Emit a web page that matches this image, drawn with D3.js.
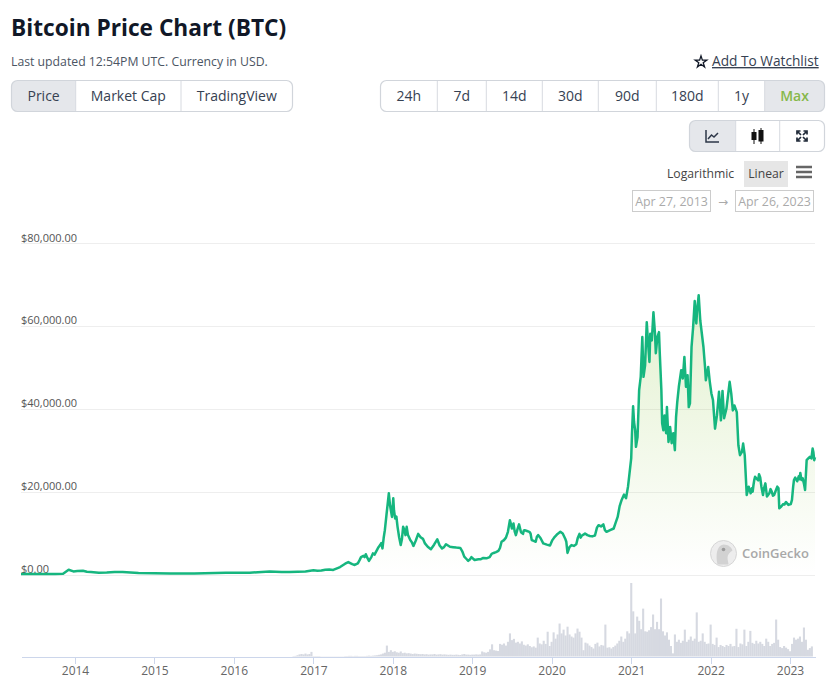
<!DOCTYPE html>
<html>
<head>
<meta charset="utf-8">
<script src="https://cdn.jsdelivr.net/npm/d3@7"></script>
<style>
html, body {
	margin: 0;
	padding: 0;
	background: #fff;
}

svg {
	display: block;
	font-family: "Open Sans", sans-serif;
}

.grid line {
	stroke: #eeeeee;
	shape-rendering: crispEdges;
}

.grid text {
	fill: #555;
	font-family: "Open Sans", sans-serif;
	font-size: 11px;
}

.xaxis line, .xaxis path {
	stroke: #ccd6eb;
	shape-rendering: crispEdges;
}

.xaxis text {
	fill: #666;
	font-family: "Open Sans", sans-serif;
	font-size: 12px;
}

.cell-text {
	font-size: 14px;
	font-weight: 500;
	fill: #364152;
	text-anchor: middle;
}
</style>
</head>
<body>
<script>
// price. year as decimal, value in thousands of USD
var priceYears = [2013.32, 2013.6, 2013.75, 2013.85, 2013.92, 2013.98, 2014.1, 2014.2, 2014.4, 2014.5, 2014.8, 2015.0, 2015.5, 2015.9, 2016.0, 2016.45, 2016.6, 2016.9, 2017.0, 2017.1, 2017.2, 2017.25,
	2017.336, 2017.44, 2017.52, 2017.63, 2017.66, 2017.70, 2017.80, 2017.84, 2017.87, 2017.90, 2017.92, 2017.95, 2017.965, 2017.99, 2018.006, 2018.03, 2018.06, 2018.10, 2018.13, 2018.16, 2018.175, 2018.22, 2018.26, 2018.32, 2018.405, 2018.48, 2018.56, 2018.62, 2018.67, 2018.72, 2018.85, 2018.90, 2018.95, 2018.99,
	2019.08, 2019.14, 2019.22, 2019.27, 2019.33, 2019.37, 2019.425, 2019.475, 2019.50, 2019.52, 2019.55, 2019.59, 2019.64, 2019.66, 2019.72, 2019.75, 2019.80, 2019.83, 2019.895, 2019.98,
	2020.04, 2020.11, 2020.17, 2020.20, 2020.25, 2020.31, 2020.35, 2020.38, 2020.42, 2020.48, 2020.545, 2020.59, 2020.65, 2020.69, 2020.78, 2020.83, 2020.88, 2020.91, 2020.935, 2020.96,
	2021.0, 2021.01, 2021.024, 2021.036, 2021.05, 2021.06, 2021.08, 2021.10, 2021.12, 2021.14, 2021.155, 2021.175, 2021.196, 2021.21, 2021.23, 2021.24, 2021.26, 2021.28, 2021.30, 2021.31, 2021.33, 2021.35, 2021.36, 2021.38, 2021.39, 2021.405, 2021.42, 2021.44, 2021.45, 2021.47, 2021.49, 2021.51, 2021.53, 2021.55, 2021.565, 2021.58, 2021.60, 2021.63, 2021.65, 2021.67, 2021.69, 2021.71, 2021.725, 2021.74, 2021.76, 2021.78, 2021.80, 2021.82, 2021.83, 2021.85, 2021.87, 2021.89, 2021.91, 2021.93, 2021.94, 2021.97, 2021.99,
	2022.01, 2022.03, 2022.056, 2022.08, 2022.106, 2022.13, 2022.15, 2022.17, 2022.20, 2022.24, 2022.26, 2022.28, 2022.30, 2022.33, 2022.35, 2022.37, 2022.395, 2022.41, 2022.43, 2022.455, 2022.48, 2022.505, 2022.54, 2022.56, 2022.61, 2022.64, 2022.66, 2022.69, 2022.71, 2022.77, 2022.80, 2022.84, 2022.865, 2022.915, 2022.95,
	2023.01, 2023.04, 2023.066, 2023.11, 2023.13, 2023.16, 2023.19, 2023.21, 2023.25, 2023.285, 2023.305, 2023.315];
var priceValues = [0.14, 0.11, 0.13, 0.2, 1.15, 0.75, 0.9, 0.6, 0.5, 0.63, 0.35, 0.3, 0.26, 0.4, 0.43, 0.75, 0.6, 0.75, 1.0, 0.95, 1.2, 1.1,
	1.8, 3.0, 2.3, 4.5, 4.9, 3.3, 5.9, 7.1, 6.3, 10.7, 14.3, 19.6, 16.7, 13.9, 18.4, 13.5, 11.5, 7.1, 11.5, 9.5, 11.5, 8.3, 6.9, 9.8, 7.5, 6.1, 8.5, 6.3, 7.3, 6.7, 6.4, 4.3, 3.3, 4.2,
	3.7, 4.0, 4.2, 5.2, 5.7, 7.9, 8.9, 13.1, 11.1, 12.3, 9.5, 12.1, 9.8, 10.7, 10.3, 8.3, 7.9, 9.5, 7.5, 7.0,
	9.1, 10.3, 8.7, 5.2, 7.1, 7.3, 9.8, 9.4, 9.9, 9.3, 9.4, 11.9, 12.1, 10.3, 11.1, 13.9, 18, 19.3, 18.4, 21.2,
	28, 34.1, 40.6, 36.8, 34.8, 30.8, 33.2, 44.5, 47.7, 57.3, 47.7, 50.5, 60.9, 56.5, 51.3, 58.1, 56.5, 63.3, 58.1, 53.4, 57.3, 58.5, 53.4, 44.5, 36.5, 34.8, 38.4, 34.1, 40.4, 32, 35.6, 31.7, 34.1, 30, 38, 41.6, 45.3, 49.3, 47.3, 52.5, 45.3, 48.1, 40.4, 41.3, 54.9, 59.7, 66, 60.6, 63.7, 67.4, 61.3, 58.1, 54.9, 50.1, 46.9, 50.1, 46.5,
	43.7, 42.1, 35.2, 38.4, 44.1, 37.2, 44.3, 37.7, 40.1, 46.5, 43.7, 39.6, 40.8, 39.2, 31.2, 28.8, 29.6, 31.6, 28.8, 19.2, 21.2, 19.6, 21.6, 23.6, 24.2, 21.2, 19.2, 22, 18.8, 20, 19.2, 21.2, 16, 17, 17.5,
	17, 21.2, 23.4, 23.7, 24.5, 23.2, 20.4, 27.6, 28.4, 30.4, 27.6, 28.3];

// smaller wiggles between the points above
var detailYears = [2014.03, 2014.15, 2014.3, 2014.6, 2015.2, 2016.2, 2016.7, 2017.05, 2017.15,
	2017.40, 2017.47, 2017.49, 2017.56, 2017.58, 2017.60, 2017.645, 2017.68, 2017.73, 2017.75, 2017.77, 2017.82, 2017.855, 2017.885,
	2018.015, 2018.045, 2018.08, 2018.115, 2018.145, 2018.19, 2018.24, 2018.29, 2018.35, 2018.38, 2018.44, 2018.52, 2018.59, 2018.645, 2018.695, 2018.76, 2018.80, 2018.875, 2018.925, 2018.97,
	2019.03, 2019.11, 2019.18, 2019.245, 2019.30, 2019.35, 2019.40, 2019.45, 2019.485, 2019.535, 2019.57, 2019.615, 2019.65, 2019.69, 2019.735, 2019.775, 2019.815, 2019.86, 2019.94,
	2020.01, 2020.075, 2020.14, 2020.185, 2020.225, 2020.28, 2020.33, 2020.365, 2020.40, 2020.45, 2020.51, 2020.57, 2020.62, 2020.67, 2020.735, 2020.805, 2020.855,
	2022.47, 2022.52, 2022.53, 2022.55, 2022.585, 2022.60, 2022.625, 2022.675, 2022.70, 2022.74, 2022.755, 2022.785, 2022.82, 2022.855, 2022.89, 2022.93, 2022.98,
	2023.025, 2023.05, 2023.09, 2023.12, 2023.145, 2023.175, 2023.2, 2023.23, 2023.27, 2023.295];
var detailValues = [0.85, 0.65, 0.45, 0.58, 0.23, 0.42, 0.62, 0.9, 1.15,
	2.6, 2.7, 2.5, 2.7, 3.4, 4.2, 4.2, 4.0, 4.2, 5.1, 4.8, 6.6, 7.6, 8.8,
	15.5, 14.0, 9.0, 8.5, 10.8, 9.6, 7.8, 8.2, 9.0, 8.6, 6.7, 7.2, 7.0, 6.6, 7.0, 6.6, 6.5, 5.6, 3.8, 3.6,
	3.5, 3.7, 3.9, 5.0, 5.4, 6.4, 8.3, 10.3, 12.4, 10.4, 10.9, 10.2, 10.6, 10.5, 9.9, 8.1, 9.1, 8.8, 7.2,
	8.3, 9.8, 9.9, 7.9, 6.6, 6.9, 8.9, 8.9, 9.6, 9.5, 9.2, 11.3, 11.6, 10.7, 10.7, 12.5, 16.5,
	20.4, 20.8, 20, 22.8, 23, 22.7, 23.4, 21, 20.4, 19.6, 20.6, 19, 20.2, 20.8, 16.4, 16.9, 16.8,
	18, 22.8, 22.5, 23, 22.8, 22, 24, 28, 28, 29.5];

// volume in billions of USD, one value every 0.025 year starting at volStart
var volStart = 2016.75;
var volStep = 0.025;
var vol2016 = [2, 3, 6, 10, 12, 10, 14, 10, 12, 22];
var vol2017 = [2, 2, 2, 2, 1, 1, 1, 1, 1, 1, 1, 1, 1, 1, 1, 1, 2, 2, 3, 3, 2, 3, 3, 2, 2, 2, 2, 3, 4, 3, 4, 5, 6, 8, 10, 14, 18, 52, 22, 30];
var vol2018 = [22, 25, 20, 18, 24, 16, 18, 15, 16, 14, 12, 14, 13, 12, 11, 12, 10, 11, 9, 10, 10, 12, 9, 10, 11, 9, 10, 9, 8, 9, 8, 8, 9, 8, 7, 10, 12, 9, 9, 8];
var vol2019 = [9, 9, 10, 9, 10, 24, 20, 18, 22, 34, 58, 30, 28, 26, 60, 56, 62, 52, 70, 110, 78, 84, 66, 70, 62, 72, 56, 52, 58, 50, 44, 48, 42, 90, 62, 58, 75, 60, 118, 50];
var vol2020 = [70, 115, 85, 105, 157, 110, 128, 100, 142, 105, 95, 90, 110, 133, 118, 90, 30, 66, 62, 52, 45, 38, 60, 66, 48, 55, 52, 152, 42, 44, 38, 45, 52, 62, 75, 95, 70, 85, 120, 110];
var vol2021 = [350, 215, 110, 190, 170, 130, 228, 120, 118, 125, 140, 200, 130, 165, 130, 276, 120, 100, 115, 80, 50, 15, 105, 70, 80, 65, 75, 128, 70, 80, 95, 75, 85, 210, 70, 75, 110, 70, 60, 62];
var vol2022 = [152, 60, 55, 90, 45, 55, 50, 45, 55, 50, 60, 48, 50, 132, 45, 62, 58, 128, 50, 70, 122, 65, 60, 75, 62, 70, 60, 50, 85, 70, 50, 60, 65, 176, 80, 45, 40, 50, 42, 35];
var vol2023 = [25, 60, 90, 80, 85, 95, 70, 138, 80, 32, 40, 48];

var yTicks = [0, 20000, 40000, 60000, 80000];
var xTicks = [2014, 2015, 2016, 2017, 2018, 2019, 2020, 2021, 2022, 2023];

var tabsLeft = ["Price", "Market Cap", "TradingView"];
var tabsRange = ["24h", "7d", "14d", "30d", "90d", "180d", "1y", "Max"];

function toDate(y) {
	var yr = Math.floor(y);
	var a = new Date(Date.UTC(yr, 0, 1)).getTime();
	var b = new Date(Date.UTC(yr + 1, 0, 1)).getTime();
	return new Date(a + (y - yr) * (b - a));
}

var W = 826, H = 686;
var svg = d3.select("body").append("svg").attr("width", W).attr("height", H);

//gradient under the line
var grad = svg.append("defs").append("linearGradient")
	.attr("id", "fade")
	.attr("gradientUnits", "userSpaceOnUse")
	.attr("x1", 0).attr("x2", 0).attr("y1", 294).attr("y2", 574);
grad.append("stop").attr("offset", 0).attr("stop-color", "#8dc63f").attr("stop-opacity", 0.25);
grad.append("stop").attr("offset", 1).attr("stop-color", "#8dc63f").attr("stop-opacity", 0.0);

/* header */
svg.append("text").attr("x", 11).attr("y", 36)
	.style("font-size", "22.7px").style("font-weight", 700).style("fill", "#111827")
	.text("Bitcoin Price Chart (BTC)");
svg.append("text").attr("x", 11).attr("y", 65.5)
	.style("font-size", "12.25px").style("fill", "#4b5563")
	.text("Last updated 12:54PM UTC. Currency in USD.");

svg.append("path")
	.attr("d", d3.symbol(d3.symbolStar, 42)())
	.attr("transform", "translate(701,62)")
	.attr("fill", "none").attr("stroke", "#111827").attr("stroke-width", 1.3);
svg.append("text").attr("x", 712).attr("y", 66)
	.style("font-size", "13.7px").style("font-weight", 500).style("fill", "#364152")
	.style("text-decoration", "underline")
	.text("Add To Watchlist");

// a row of joined buttons. edges has one more entry than cells
function buttonGroup(edges, top, bottom, activeIdx) {
	var g = svg.append("g");
	var x0 = edges[0], x1 = edges[edges.length - 1];
	var clipId = "clip" + Math.round(x0) + "_" + Math.round(top);
	g.append("clipPath").attr("id", clipId).append("rect")
		.attr("x", x0).attr("y", top).attr("width", x1 - x0).attr("height", bottom - top).attr("rx", 6);
	g.append("rect")
		.attr("x", edges[activeIdx]).attr("y", top)
		.attr("width", edges[activeIdx + 1] - edges[activeIdx]).attr("height", bottom - top)
		.attr("fill", "#e5e7eb").attr("clip-path", "url(#" + clipId + ")");
	for (var i = 1; i < edges.length - 1; i++) {
		g.append("line").attr("x1", edges[i]).attr("x2", edges[i]).attr("y1", top).attr("y2", bottom)
			.attr("stroke", "#d7dae0");
	}
	g.append("rect")
		.attr("x", x0).attr("y", top).attr("width", x1 - x0).attr("height", bottom - top).attr("rx", 6)
		.attr("fill", "none").attr("stroke", "#d1d5db").attr("stroke-width", 1.2);
	return g;
}

var leftEdges = [11.5, 75.7, 181, 292.5];
buttonGroup(leftEdges, 80.5, 111.5, 0);
svg.selectAll(".tabl").data(tabsLeft).enter().append("text")
	.attr("class", "cell-text")
	.attr("x", function(d, i) { return (leftEdges[i] + leftEdges[i + 1]) / 2; })
	.attr("y", 101)
	.text(function(d) { return d; });

var rangeEdges = [380.5, 437.3, 486.3, 542.3, 598.3, 656.3, 718.3, 764.7, 824.5];
buttonGroup(rangeEdges, 80.5, 111.5, 7);
svg.selectAll(".tabr").data(tabsRange).enter().append("text")
	.attr("class", "cell-text")
	.attr("x", function(d, i) { return (rangeEdges[i] + rangeEdges[i + 1]) / 2; })
	.attr("y", 101)
	.style("fill", function(d) { return d == "Max" ? "#86b84a" : "#364152"; })
	.style("font-weight", function(d) { return d == "Max" ? 600 : 500; })
	.text(function(d) { return d; });

buttonGroup([689.5, 735.7, 779.7, 824.5], 120.5, 151.5, 0);

//line chart icon
svg.append("path").attr("d", "M706 130V142H719M708 139L711.5 135L714 137L718 133")
	.attr("fill", "none").attr("stroke", "#2d3748").attr("stroke-width", 1.5);
//candles icon
svg.append("path").attr("d", "M754 129V144M761 128V144").attr("stroke", "#111").attr("stroke-width", 1);
svg.append("rect").attr("x", 751.5).attr("y", 132).attr("width", 5).attr("height", 8).attr("fill", "#111");
svg.append("rect").attr("x", 758.5).attr("y", 130).attr("width", 5).attr("height", 11.5).attr("fill", "#111");
//expand icon
svg.append("path")
	.attr("d", "M797 134.5V131H800.5M803.5 131H807V134.5M797 137.5V141H800.5M807 137.5V141H803.5M798 132L801 135M806 132L803 135M798 140L801 137M806 140L803 137")
	.attr("fill", "none").attr("stroke", "#1f2937").attr("stroke-width", 1.7);

/* scale switch */
svg.append("text").attr("x", 667).attr("y", 178)
	.style("font-size", "12.2px").style("fill", "#444")
	.text("Logarithmic");
svg.append("rect").attr("x", 744).attr("y", 161).attr("width", 44).attr("height", 26).attr("fill", "#e6e6e6");
svg.append("text").attr("x", 766).attr("y", 178).attr("text-anchor", "middle")
	.style("font-size", "12.2px").style("fill", "#444")
	.text("Linear");
svg.append("path").attr("d", "M796 167H812M796 172H812M796 177H812")
	.attr("stroke", "#666").attr("stroke-width", 2.6);

/* date range boxes */
var dateBoxes = [{ x: 632.5, label: "Apr 27, 2013" }, { x: 735.5, label: "Apr 26, 2023" }];
svg.selectAll(".dbox").data(dateBoxes).enter().append("rect")
	.attr("x", function(d) { return d.x; }).attr("y", 190.5)
	.attr("width", 78).attr("height", 21)
	.attr("fill", "#fff").attr("stroke", "#cccccc");
svg.selectAll(".dtext").data(dateBoxes).enter().append("text")
	.attr("x", function(d) { return d.x + 39; }).attr("y", 205.5)
	.attr("text-anchor", "middle")
	.style("font-size", "12.4px").style("fill", "#aaaaaa")
	.text(function(d) { return d.label; });
svg.append("text").attr("x", 723).attr("y", 206).attr("text-anchor", "middle")
	.style("font-family", "DejaVu Sans")
	.style("font-size", "12px").style("fill", "#aaaaaa").text("→");

/* scales */
var x = d3.scaleTime()
	.domain([toDate(2013.32), toDate(2023.315)])
	.range([21, 815]);
var y = d3.scaleLinear().domain([0, 80000]).range([574.5, 243]);
var yVol = d3.scaleLinear().domain([0, 350]).range([656.5, 583]);

// gridlines and price labels
var grid = svg.append("g").attr("class", "grid").attr("transform", "translate(21,0)")
	.call(d3.axisRight(y).tickValues(yTicks).tickSize(794).tickFormat(d3.format("$,.2f")));
grid.select(".domain").remove();
grid.selectAll("text").attr("x", 0).attr("dy", "-2px");
grid.selectAll(".tick line").attr("stroke", null);

/* price */
var points = d3.zip(priceYears.concat(detailYears), priceValues.concat(detailValues))
	.sort(function(a, b) { return a[0] - b[0]; })
	.map(function(d) { return { date: toDate(d[0]), value: d[1] * 1000 }; });

var area = d3.area()
	.x(function(d) { return x(d.date); })
	.y0(y(0))
	.y1(function(d) { return y(d.value); });
var line = d3.line()
	.x(function(d) { return x(d.date); })
	.y(function(d) { return y(d.value); });

svg.append("path").datum(points).attr("d", area).attr("fill", "url(#fade)");

/* volume */
var volumes = vol2016.concat(vol2017, vol2018, vol2019, vol2020, vol2021, vol2022, vol2023);
var barW = x(toDate(volStart + volStep)) - x(toDate(volStart));
svg.append("g").selectAll("rect").data(volumes).enter().append("rect")
	.attr("x", function(d, i) { return x(toDate(volStart + i * volStep)) - barW / 2; })
	.attr("y", function(d) { return yVol(d); })
	.attr("width", barW + 0.1)
	.attr("height", function(d) { return yVol(0) - yVol(d); })
	.attr("fill", "#d6d9e1");

/* watermark */
var logo = svg.append("g").attr("transform", "translate(723.5,553.5)");
logo.append("circle").attr("r", 13).attr("fill", "#ededed").attr("stroke", "#d6d6d6").attr("stroke-width", 1);
logo.append("path").attr("d", "M-6 11C-8 2 -7 -8 0 -9C5 -9 8 -6 9 -3C6 -1 4 1 4 4C4 7 5 9 5 11Z").attr("fill", "#d2d2d2");
logo.append("circle").attr("cx", 0).attr("cy", -4).attr("r", 1.8).attr("fill", "#9a9a9a");
svg.append("text").attr("x", 742).attr("y", 557.5)
	.style("font-size", "13px").style("font-weight", 600).style("fill", "#a8a8a8")
	.text("CoinGecko");

svg.append("path").datum(points).attr("d", line)
	.attr("fill", "none").attr("stroke", "#16b67f").attr("stroke-width", 2.5)
	.attr("stroke-linejoin", "round");

/* x axis */
var xAxis = d3.axisBottom(x)
	.tickValues(xTicks.map(toDate))
	.tickSize(7).tickSizeOuter(0).tickPadding(3)
	.tickFormat(d3.timeFormat("%Y"));
svg.append("g").attr("class", "xaxis").attr("transform", "translate(0,656.5)").call(xAxis);
</script>
</body>
</html>
